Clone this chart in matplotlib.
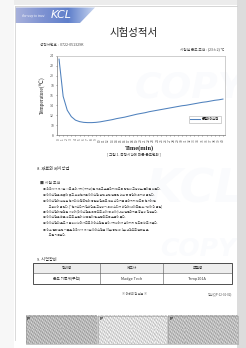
import numpy as np
import matplotlib
matplotlib.use("Agg")
import matplotlib.pyplot as plt
from matplotlib.patches import Rectangle, Polygon

plt.rcParams['font.family'] = ['Noto Sans CJK KR', 'DejaVu Sans']

# ---------------- data ----------------
time_labels = [str(i) for i in range(41)]
temperature = [23.3, 15.8, 13.0, 11.7, 11.0, 10.7, 10.55, 10.5, 10.5, 10.55,
               10.65, 10.8, 10.95, 11.1, 11.3, 11.45, 11.6, 11.8, 12.0, 12.2,
               12.35, 12.5, 12.7, 12.85, 13.0, 13.15, 13.3, 13.45, 13.6, 13.75,
               13.9, 14.0, 14.15, 14.3, 14.45, 14.6, 14.7, 14.85, 15.0, 15.1, 15.25]
y_ticks = [8, 10, 12, 14, 16, 18, 20, 22, 24]
series_name = "온열아이스팩"

W, H = 246, 348
fig = plt.figure(figsize=(W / 100, H / 100), dpi=100)
fig.patch.set_facecolor('white')

bg = fig.add_axes([0, 0, 1, 1])
bg.set_xlim(0, W)
bg.set_ylim(H, 0)
bg.axis('off')

serif = ['Liberation Serif', 'DejaVu Sans']

# page edges / scan shadow
bg.add_patch(Rectangle((0, 0), W, 5, color='#ececec', lw=0))
bg.add_patch(Rectangle((237, 0), 9, H, color='#dcdcdc', lw=0))
bg.add_patch(Rectangle((0, 0), 14, H, color='#f7f7f7', lw=0))
bg.plot([15, 237], [6, 6], color='#cfcfcf', lw=0.6)
bg.plot([15, 15], [6, 340], color='#d5d5d5', lw=0.6)

# watermark (very faint)
for (tx, ty, s, fs) in [(195, 190, "KCL", 34), (198, 249, "COPY", 18), (190, 88, "COPY", 26)]:
    bg.text(tx, ty, s, fontsize=fs, color='#fafbfd', ha='center', va='center',
            fontstyle='italic', fontweight='bold', family='DejaVu Sans', zorder=0)

# header band with gradient
grad = np.linspace(0, 1, 256).reshape(1, -1)
cmap = matplotlib.colors.LinearSegmentedColormap.from_list(
    'band', ['#a9b2dc', '#7f93d2', '#5f7fcb', '#c9d6f0'])
im = bg.imshow(grad, extent=[15, 95, 23, 7.5], cmap=cmap, aspect='auto', zorder=1)
band = Polygon([[15, 7.5], [95, 7.5], [80, 23], [15, 23]], closed=True,
               transform=bg.transData, facecolor='none', edgecolor='none')
bg.add_patch(band)
im.set_clip_path(band)
bg.text(22, 15.5, "the way to trust", fontsize=2.6, color='white', fontstyle='italic',
        family='Liberation Serif', va='center', ha='left', zorder=2)
bg.text(51, 15.5, "KCL", fontsize=8, color='white', fontstyle='italic',
        family='DejaVu Sans', va='center', ha='left', zorder=2)

# title
bg.text(134, 33, "시험성적서", fontsize=7.5, color='#222222', ha='center', va='center')
bg.text(40, 45, "성적서번호 :  0722-051329K", fontsize=2.6, color='#444444', ha='left', va='center')
bg.text(224, 49, "시험실 온도 조건 : (23±2) ℃", fontsize=2.6, color='#444444', ha='right', va='center')

# ---------------- chart ----------------
L, R, T, B = 57, 225, 55.7, 135
ax = fig.add_axes([L / W, 1 - B / H, (R - L) / W, (B - T) / H])
ax.patch.set_alpha(0)
x = np.arange(len(time_labels))
ax.plot(x, temperature, color='#4f81bd', lw=0.75, label=series_name)
ax.set_xlim(-0.5, len(time_labels) - 0.5)
ax.set_ylim(8, 24)
ax.set_yticks(y_ticks)
ax.set_yticklabels([str(v) for v in y_ticks], fontsize=2.5, color='#333333')
ax.set_xticks(x)
ax.set_xticklabels(time_labels, fontsize=2.3, rotation=90, color='#333333')
ax.tick_params(axis='both', length=1.0, width=0.4, pad=1.2, colors='#555555')
for side in ['left', 'bottom']:
    ax.spines[side].set_color('#777777')
    ax.spines[side].set_linewidth(0.5)
for side in ['top', 'right']:
    ax.spines[side].set_color('#bbbbbb')
    ax.spines[side].set_linewidth(0.5)
leg = ax.legend(loc='lower right', bbox_to_anchor=(0.985, 0.135), fontsize=2.3,
                frameon=True, fancybox=False, edgecolor='#999999', borderpad=0.5,
                handlelength=3.2, handletextpad=0.5)
leg.get_frame().set_linewidth(0.4)

bg.text(42, 95, "Temperature(℃)", fontsize=4.0, rotation=90, ha='center', va='center',
        family=serif, color='#222222')
bg.text(140, 148.5, "Time(min)", fontsize=4.6, fontweight='bold', ha='center', va='center',
        family=serif, color='#222222')
bg.text(134, 154, "[ 그림 1. 측정시간에 따른 온도변화 ]", fontsize=2.6, ha='center', va='center',
        color='#333333')

# ---------------- body text ----------------
tc = '#444444'
bg.text(37, 168, "8. 재료와 제시방법", fontsize=3.0, ha='left', va='center', color='#333333')
bg.text(40, 183, "■ 시험 조건", fontsize=2.8, ha='left', va='center', color=tc)
body_lines = [
    "① 의뢰자가 제시한 시료 올이가지(거치대)를 세우고 흔들리지 않도록 단단히 고정하는 틀이를 따른다.",
    "② 아이스팩을 그릇에 꽂고 부착센서를 아이스팩 정면 상단 발열면 내부 쪽 중앙에 위치해 붙인다.",
    "③ 아이스팩에 부착된 센서의 비접촉면에 동일한 링그로 전부 스티커를 붙이지지 않도록 센서에 잘",
    "\u3000\u3000고정하여 붙인다. [*센서스티커 밑바닥을 고정하기 위해 스티커 바닥에 테이프를 추가하여 더 붙임]",
    "④ 아이스팩에 압력을 가하여(아이스팩을 뒤쪽으로 휘어 꼭 쥐어) 내부 발열마지를 충분히 진행한다.",
    "⑤ 아이스팩을 빠른 속도로 흔들어 내용물이 잘 혼합되도록 흔들어 준다.",
    "⑥ 아이스팩의 온도가 급속히 내려가므로 아이스팩을 올이가지대에서 넘어지지 않도록 바로 세운다.",
    "⑦ 이후 결과 판단 기준은 의뢰자가 제시한 아이스팩을 30분 동안 매 1분 간격으로 변화된 온",
    "\u3000\u3000도를 기록한다.",
]
bg.text(43, 187.6, "\n".join(body_lines), fontsize=2.05, ha='left', va='top',
        color=tc, linespacing=1.56)

# ---------------- equipment table ----------------
bg.text(37, 260, "9. 시험장비", fontsize=3.0, ha='left', va='center', color='#333333')
tx0, tx1, ty0, tmid, ty1 = 33.3, 231.7, 263.3, 273, 284.3
cols = [tx0, 100, 163.3, tx1]
bg.add_patch(Rectangle((tx0, ty0), tx1 - tx0, tmid - ty0, facecolor='#eeeeee', edgecolor='none'))
bg.add_patch(Rectangle((tx0, ty0), tx1 - tx0, ty1 - ty0, facecolor='none', edgecolor='#333333', lw=0.6))
bg.plot([tx0, tx1], [tmid, tmid], color='#555555', lw=0.4)
for cx in cols[1:-1]:
    bg.plot([cx, cx], [ty0, ty1], color='#555555', lw=0.4)
header = ["장비명", "제조사", "모델명"]
row = ["온도 기록계(무선)", "Madge Tech", "Temp101A"]
for i in range(3):
    cx = (cols[i] + cols[i + 1]) / 2
    bg.text(cx, (ty0 + tmid) / 2, header[i], fontsize=2.7, ha='center', va='center', color='#333333')
    bg.text(cx, (tmid + ty1) / 2, row[i], fontsize=2.7, ha='center', va='center', color='#333333')

bg.text(134, 294, "※ 이하의 값 없음 ※", fontsize=2.2, ha='center', va='center', color='#555555')
bg.text(232, 294, "양식(QP-12-01-02)", fontsize=2.2, ha='right', va='center', color='#555555')

# ---------------- bottom photo strips ----------------
yy, xx = np.mgrid[0:30, 0:72]
for (x0, x1, base) in [(25.7, 96.7, 0.72), (98.3, 166.7, 0.86), (168.3, 237.7, 0.74)]:
    tex = base + 0.12 * np.sin(xx * 2.3 + yy * 1.7) * np.cos(xx * 0.9 - yy * 2.9)
    bg.imshow(tex, extent=[x0, x1, 344, 315.7], cmap='gray', vmin=0, vmax=1,
              aspect='auto', interpolation='nearest', zorder=1)
    bg.add_patch(Rectangle((x0, 315.7), x1 - x0, 28.3, facecolor='none', edgecolor='#9a9a9a', lw=0.4, zorder=2))
    bg.text(x0 + 1, 318.5, "P", fontsize=3, color='#333333', ha='left', va='center', zorder=3,
            family='DejaVu Sans', fontweight='bold')
bg.set_xlim(0, W)
bg.set_ylim(H, 0)

fig.savefig("out.png", dpi=100, facecolor='white')
